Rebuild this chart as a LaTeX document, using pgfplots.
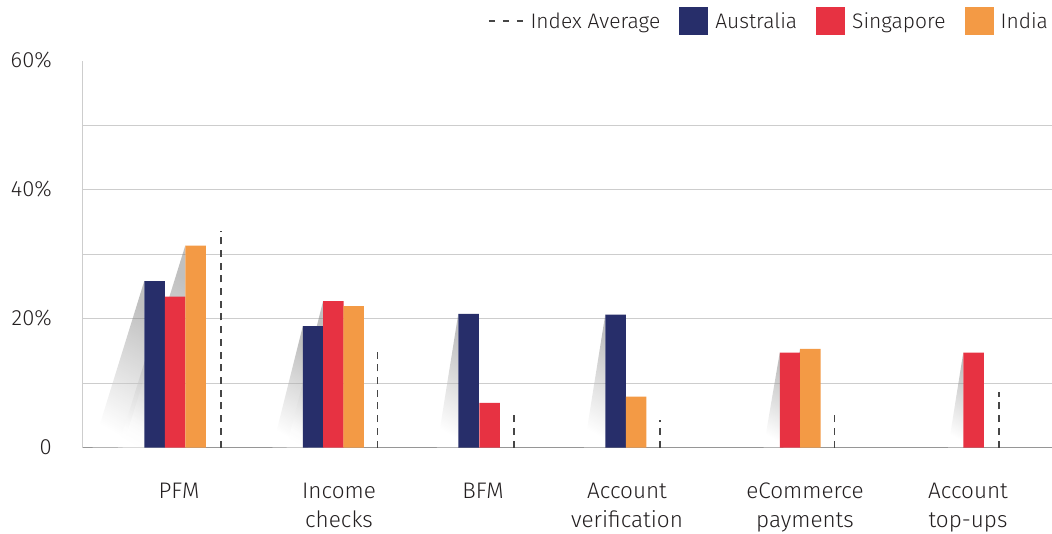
\documentclass[border=0pt]{standalone}
\usepackage{pgfplots}
\pgfplotsset{compat=1.18}
\usepackage{pgfplotstable}
\usepackage{fontspec}
\IfFontExistsTF{Fira Sans Light}{\setmainfont{Fira Sans Light}}{\setmainfont{Fira Sans}}
\definecolor{aus}{RGB}{39,46,106}
\definecolor{sgp}{RGB}{231,50,66}
\definecolor{ind}{RGB}{243,154,69}
\definecolor{txt}{RGB}{35,31,32}
\definecolor{gridc}{RGB}{205,205,205}
\definecolor{basec}{RGB}{150,150,150}
\definecolor{idx}{RGB}{70,70,70}

\pgfplotstableread{
x v
154.5 25.8
313.0 18.8
468.5 20.7
615.5 20.6
}\austab
\pgfplotstableread{
x v
175.0 23.4
333.3 22.7
489.5 6.9
790.0 14.7
973.5 14.7
}\sgptab
\pgfplotstableread{
x v
195.5 31.3
353.7 21.9
636.0 7.9
810.3 15.3
}\indtab
\pgfplotstableread{
x v
221.0 33.5
377.7 14.9
514.0 5.6
660.0 4.3
834.7 5.9
999.0 8.6
}\idxtab

\begin{document}
\begin{tikzpicture}
\useasboundingbox (0,0) rectangle (1052pt,533pt);
\begin{axis}[
  at={(82pt,85.5pt)}, anchor=south west,
  scale only axis, width=970pt, height=387pt,
  xmin=82, xmax=1052, ymin=0, ymax=60,
  clip=false,
  axis x line=bottom, axis y line=left,
  x axis line style={-, draw=basec, line width=1.3pt},
  y axis line style={-, draw=gridc, line width=1pt},
  major tick length=0pt,
  xtick={179,339,483,627,805,968},
  xticklabels={PFM, Income\\checks, BFM, Account\\verification, eCommerce\\payments, Account\\top-ups},
  xticklabel style={align=center, anchor=north, inner sep=0pt, yshift=-35pt, text=txt, font=\fontsize{22.5}{29.5}\selectfont},
  ytick={10,20,30,40,50},
  yticklabels={,20\%,,40\%,},
  extra y ticks={0,60},
  extra y tick labels={0\hspace{4pt},60\%},
  extra y tick style={grid=none},
  ymajorgrids,
  grid style={draw=gridc, line width=1pt},
  yticklabel style={anchor=east, inner sep=0pt, xshift=-30pt, text=txt, font=\fontsize{22}{24}\selectfont},
  /pgf/number format/assume math mode=true,
  legend columns=4,
  legend style={draw=none, fill=none, at={(1,1)}, anchor=east, xshift=-2pt, yshift=39.5pt,
    inner sep=0pt, outer sep=0pt, font=\fontsize{21}{24}\selectfont, text=txt,
    /tikz/every odd column/.append style={column sep=5pt},
    /tikz/every even column/.append style={column sep=17pt}},
  shadow/.style={draw=none, forget plot, fill opacity=0.45, top color=black!55, bottom color=white, shading angle=-30},
]
% decorative shadows
\addplot[shadow] coordinates {(92.65,0) (144.25,25.8) (144.25,0)} \closedcycle;
\addplot[shadow] coordinates {(117.95,0) (164.75,23.4) (164.75,0)} \closedcycle;
\addplot[shadow] coordinates {(122.65,0) (185.25,31.3) (185.25,0)} \closedcycle;
\addplot[shadow] coordinates {(272.45,0) (302.75,18.8) (302.75,0)} \closedcycle;
\addplot[shadow] coordinates {(286.55,0) (323.05,22.7) (323.05,0)} \closedcycle;
\addplot[shadow] coordinates {(308.15,0) (343.45,21.9) (343.45,0)} \closedcycle;
\addplot[shadow] coordinates {(436.95,0) (458.25,20.7) (458.25,0)} \closedcycle;
\addplot[shadow] coordinates {(584.05,0) (605.25,20.6) (605.25,0)} \closedcycle;
\addplot[shadow] coordinates {(763.55,0) (779.75,14.7) (779.75,0)} \closedcycle;
\addplot[shadow] coordinates {(783.25,0) (800.05,15.3) (800.05,0)} \closedcycle;
\addplot[shadow] coordinates {(948.15,0) (963.25,14.7) (963.25,0)} \closedcycle;

\addplot[ycomb, mark=none, draw=idx, line width=1.5pt, dash pattern=on 7pt off 5.7pt,
  legend image code/.code={\draw[idx, line width=1.3pt, dash pattern=on 6pt off 8pt] (0pt,0pt) -- (34pt,0pt);}]
  table[x=x,y=v] {\idxtab};
\addlegendentry{Index Average}
\addplot[ybar, bar width=20.5, bar shift=0pt, fill=aus, draw=none,
  legend image code/.code={\fill[aus] (0pt,-14pt) rectangle (29pt,14pt);}]
  table[x=x,y=v] {\austab};
\addlegendentry{Australia}
\addplot[ybar, bar width=20.5, bar shift=0pt, fill=sgp, draw=none,
  legend image code/.code={\fill[sgp] (0pt,-14pt) rectangle (29pt,14pt);}]
  table[x=x,y=v] {\sgptab};
\addlegendentry{Singapore}
\addplot[ybar, bar width=20.5, bar shift=0pt, fill=ind, draw=none,
  legend image code/.code={\fill[ind] (0pt,-14pt) rectangle (29pt,14pt);}]
  table[x=x,y=v] {\indtab};
\addlegendentry{India}
\end{axis}
\end{tikzpicture}
\end{document}
